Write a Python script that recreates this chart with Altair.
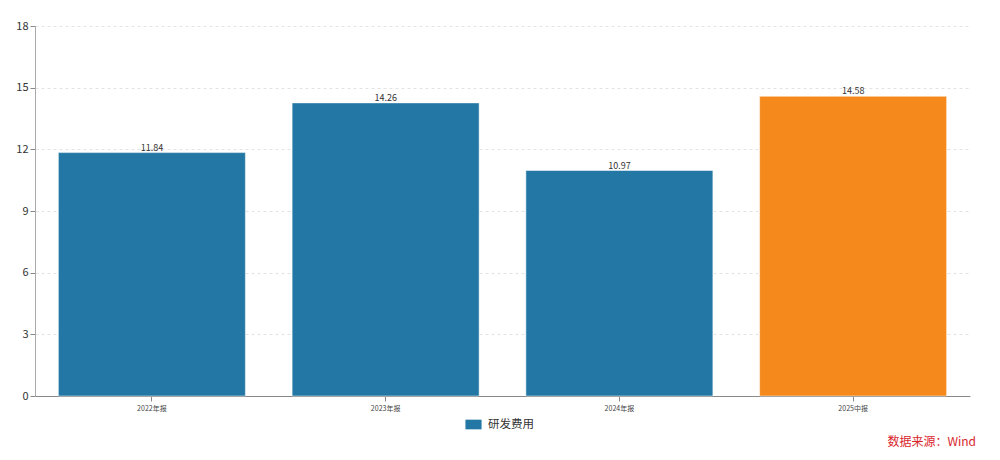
import altair as alt
import pandas as pd

periods = ["2022年报", "2023年报", "2024年报", "2025中报"]
rd_expense = [11.84, 14.26, 10.97, 14.58]
series_name = "研发费用"
source_note = "数据来源：Wind"

FONT = "Noto Sans CJK SC"
BLUE = "#2277a4"
ORANGE = "#f5891b"

df = pd.DataFrame({"period": periods, "value": rd_expense, "series": series_name})

base = alt.Chart(df).encode(
    x=alt.X(
        "period:N",
        sort=periods,
        title=None,
        scale=alt.Scale(paddingInner=0.2, paddingOuter=0.1),
        axis=alt.Axis(
            labelAngle=0, labelFontSize=7, labelColor="#444", domainColor="#888",
            tickColor="#888", tickSize=5, labelPadding=3, grid=False,
        ),
    ),
    y=alt.Y(
        "value:Q",
        title=None,
        scale=alt.Scale(domain=[0, 18], nice=False),
        axis=alt.Axis(
            values=[0, 3, 6, 9, 12, 15, 18], labelFontSize=11, labelColor="#333",
            domainColor="#aaa", tickColor="#888", tickSize=5, labelPadding=2,
            gridColor="#e3e3e3", gridDash=[3, 3],
        ),
    ),
)

bars = base.mark_bar(stroke="white", strokeWidth=0.5).encode(
    color=alt.condition(
        "datum.period == '2025中报'",
        alt.value(ORANGE),
        alt.Color(
            "series:N",
            scale=alt.Scale(range=[BLUE]),
            legend=alt.Legend(
                title=None, orient="none", legendX=430, legendY=390,
                symbolType="M-1,-0.6 h2 v1.2 h-2 Z", symbolSize=260,
                symbolStrokeWidth=0, labelFontSize=11.5, labelColor="#333",
                labelOffset=6,
            ),
        ),
    )
)

labels = base.mark_text(dy=-5, fontSize=9, color="#333", font=FONT).encode(
    text=alt.Text("value:Q", format=".2f")
)

note = (
    alt.Chart(pd.DataFrame({"t": [source_note]}))
    .mark_text(align="right", baseline="middle", fontSize=12, color="#d9262c", font=FONT)
    .encode(text="t:N", x=alt.value(941), y=alt.value(416))
)

chart = (
    alt.layer(bars, labels, note)
    .properties(
        width=935,
        height=370,
        autosize=alt.AutoSizeParams(type="none"),
        padding={"left": 27, "top": 18, "right": 22, "bottom": 56},
    )
    .configure(font=FONT)
    .configure_view(stroke=None)
)

chart.save("out.html", embed_options={"renderer": "svg", "actions": False})
